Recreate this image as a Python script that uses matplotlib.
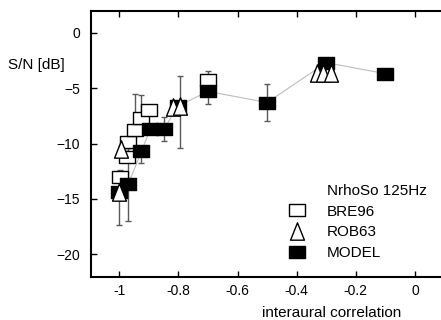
import numpy as np
import matplotlib
matplotlib.use("Agg")
import matplotlib.pyplot as plt
from matplotlib.path import Path
from matplotlib.lines import Line2D

plt.rcParams["font.family"] = ["Liberation Sans", "DejaVu Sans"]

# BRE96 (open squares)
bre_x = [-0.998, -0.975, -0.97, -0.947, -0.927, -0.90, -0.70]
bre_y = [-13.0, -11.2, -9.9, -8.8, -7.7, -7.0, -4.3]
bre_lo = [0.6, 0.5, 0.5, 0.5, 0.5, 0.4, 0.4]
bre_hi = [0.6, 0.5, 0.5, 3.3, 2.1, 0.4, 0.8]

# ROB63 (open triangles)
rob_x = [-1.0, -0.995, -0.82, -0.795, -0.33, -0.31, -0.285]
rob_y = [-14.4, -10.5, -6.7, -6.6, -3.6, -3.6, -3.6]
rob_lo = [3.0, 0.3, 0.3, 3.8, 0.2, 0.2, 0.2]
rob_hi = [1.0, 0.3, 0.3, 2.7, 0.2, 0.2, 0.2]

# MODEL (filled squares, connected)
mod_x = [-1.0, -0.97, -0.925, -0.895, -0.85, -0.80, -0.70, -0.50, -0.30, -0.10]
mod_y = [-14.4, -13.7, -10.7, -8.7, -8.7, -6.6, -5.3, -6.3, -2.7, -3.7]
mod_lo = [0.3, 3.3, 1.1, 0.3, 1.1, 0.3, 1.1, 1.7, 0.2, 0.2]
mod_hi = [0.3, 3.3, 0.3, 0.3, 1.1, 0.3, 0.3, 1.7, 0.2, 0.2]

xticks = [-1, -0.8, -0.6, -0.4, -0.2, 0]
xticklabels = ["-1", "-0.8", "-0.6", "-0.4", "-0.2", "0"]
yticks = [0, -5, -10, -15, -20]

rect = Path([(-1.35, -1), (1.35, -1), (1.35, 1), (-1.35, 1), (-1.35, -1)],
            [Path.MOVETO, Path.LINETO, Path.LINETO, Path.LINETO, Path.CLOSEPOLY])
tri = Path([(0, 1), (-0.8, -1), (0.8, -1), (0, 1)],
           [Path.MOVETO, Path.LINETO, Path.LINETO, Path.CLOSEPOLY])

fig = plt.figure(figsize=(4.41, 3.2), dpi=100)
ax = fig.add_axes([91 / 441, 1 - 277 / 320, 1 - 91 / 441, (277 - 11) / 320])

ecol = "#5a5a5a"
ax.plot(mod_x, mod_y, color="#bcbcbc", lw=0.8, zorder=1)
ax.errorbar(bre_x, bre_y, yerr=[bre_lo, bre_hi], fmt="none", ecolor=ecol,
            elinewidth=1, capsize=2.5, zorder=2)
ax.errorbar(mod_x, mod_y, yerr=[mod_lo, mod_hi], fmt="none", ecolor=ecol,
            elinewidth=1, capsize=2.5, zorder=2)
ax.errorbar(rob_x, rob_y, yerr=[rob_lo, rob_hi], fmt="none", ecolor=ecol,
            elinewidth=1, capsize=2.5, zorder=2)
ax.plot(bre_x, bre_y, ls="none", marker=rect, ms=11, mfc="white", mec="black",
        mew=1, zorder=3)
ax.plot(mod_x, mod_y, ls="none", marker=rect, ms=11, mfc="black", mec="black",
        mew=1, zorder=4)
ax.plot(rob_x, rob_y, ls="none", marker=tri, ms=12.5, mfc="white", mec="black",
        mew=1, zorder=5)

ax.set_xlim(-1.0957, 0.088)
ax.set_ylim(-22.05, 1.96)
ax.set_xticks(xticks)
ax.set_xticklabels(xticklabels)
ax.set_yticks(yticks)
ax.tick_params(axis="x", direction="in", top=True, length=4, width=1,
               labelsize=10, pad=5)
ax.tick_params(axis="y", direction="in", right=False, length=4, width=1,
               labelsize=10, pad=8)
ax.spines["right"].set_visible(False)
for s in ["left", "bottom", "top"]:
    ax.spines[s].set_linewidth(1.5)

fig.text(8 / 441, 1 - 65 / 320, "S/N [dB]", fontsize=11, ha="left", va="center")
fig.text(332 / 441, 1 - 313 / 320, "interaural correlation", fontsize=11,
         ha="center", va="center")

# legend title drawn as an entry without a handle so it lines up with labels
handles = [
    Line2D([], [], ls="none"),
    Line2D([], [], ls="none", marker=rect, ms=11, mfc="white", mec="black", mew=1),
    Line2D([], [], ls="none", marker=tri, ms=12.5, mfc="white", mec="black", mew=1),
    Line2D([], [], ls="none", marker=rect, ms=11, mfc="black", mec="black", mew=1),
]
leg = ax.legend(handles, ["NrhoSo 125Hz", "BRE96", "ROB63", "MODEL"],
                frameon=False, fontsize=11,
                loc="upper left", bbox_to_anchor=(280 / 441, 1 - 176 / 320),
                bbox_transform=fig.transFigure, handletextpad=1.35,
                labelspacing=0.45, borderpad=0, handlelength=1.2)

fig.savefig("out.png", dpi=100)
